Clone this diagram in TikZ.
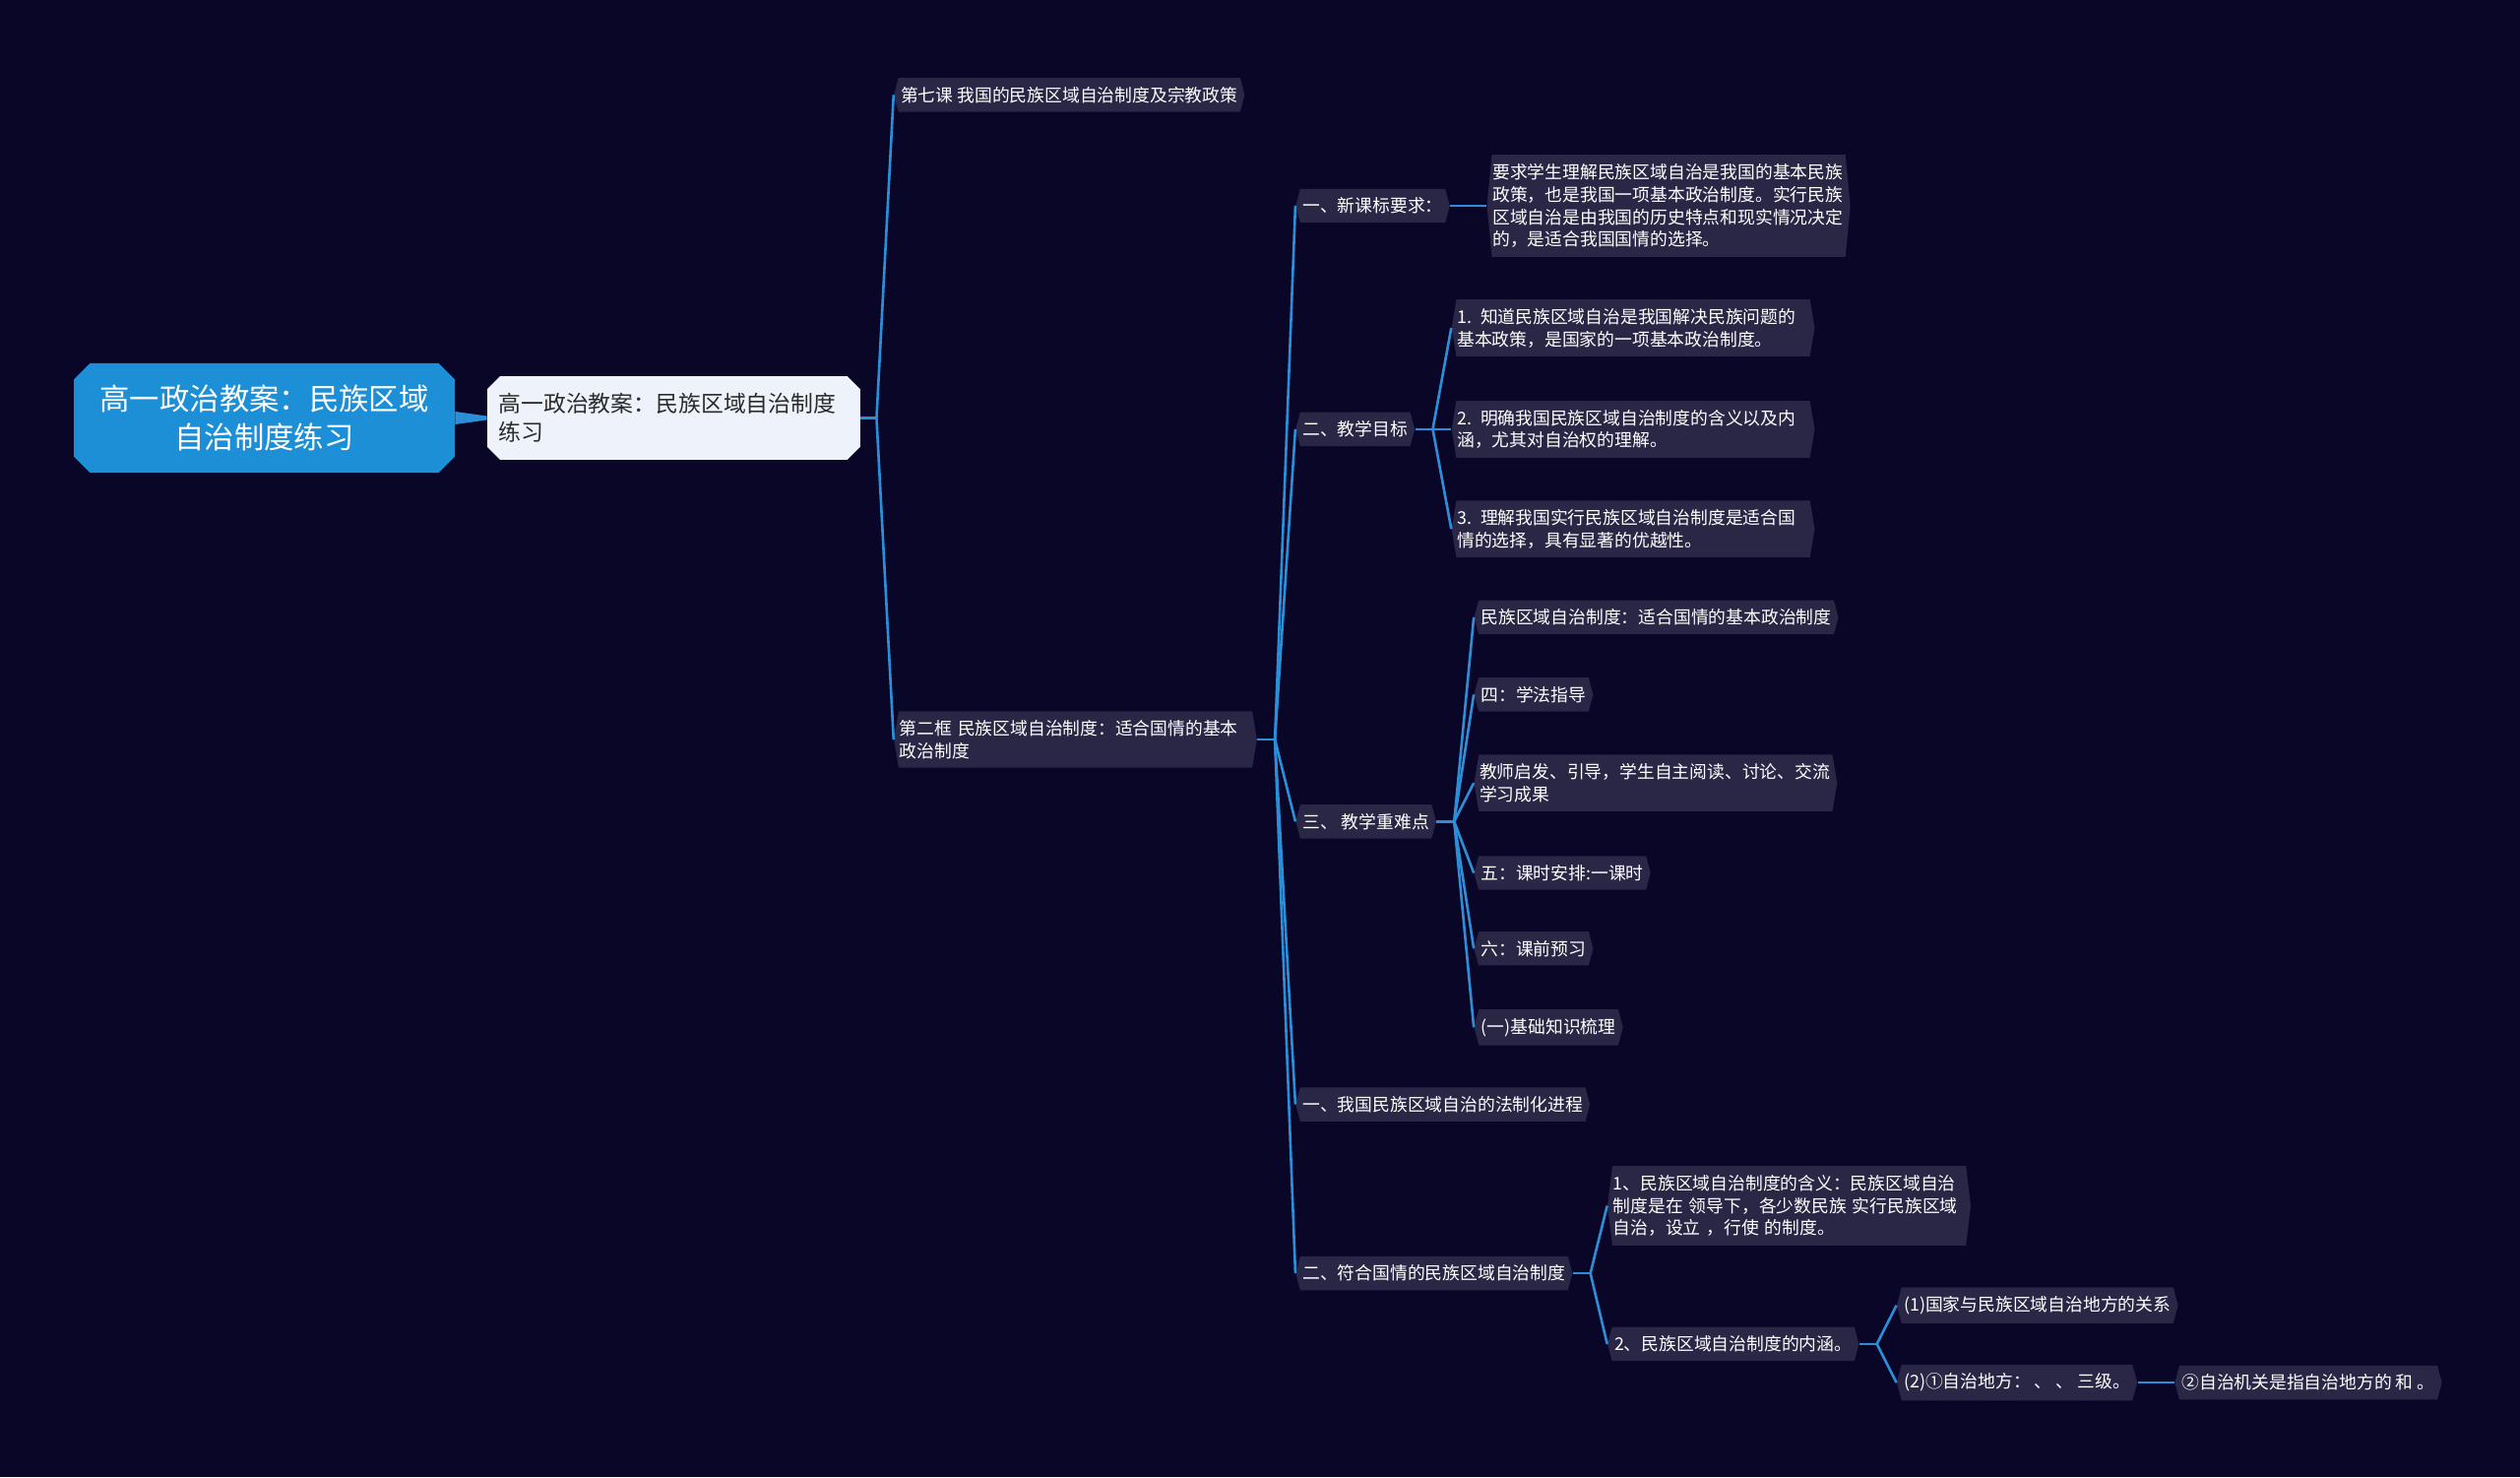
\documentclass[tikz,border=0pt]{standalone}
\usepackage{fontspec}
\setmainfont{Noto Sans CJK SC}
\usetikzlibrary{shapes.symbols,shapes.misc,calc}
\definecolor{bgnavy}{HTML}{0A0628}
\definecolor{leaffill}{HTML}{2A2646}
\definecolor{linkblue}{HTML}{2B8FD8}
\definecolor{rootblue}{HTML}{1C8FD6}
\definecolor{subfill}{HTML}{EEF3FB}
\definecolor{subtext}{HTML}{2B2B2B}
\begin{document}
\begin{tikzpicture}[x=1pt,y=-1pt]
        \tikzstyle{leaf}=[signal, signal to=west and east, signal pointer angle=150, fill=leaffill, text=white, font=\fontsize{10.9}{14}\selectfont, align=left, inner xsep=1.5pt, inner ysep=5.5pt, anchor=west]
        \tikzstyle{tworow}=[signal pointer angle=161, text width=219pt, inner xsep=0.5pt]
        \tikzstyle{threerow}=[signal pointer angle=166, text width=219pt, inner xsep=0.5pt]
        \tikzstyle{fourrow}=[signal pointer angle=169, text width=219pt, inner xsep=0.5pt]
        \tikzstyle{conn}=[draw=linkblue, line width=1.6pt]
        \fill [bgnavy] (0,0) rectangle (1568,919);
        % root and its white child
        \node [chamfered rectangle, chamfered rectangle xsep=5pt, chamfered rectangle ysep=5pt, fill=rootblue, text=white, font=\fontsize{18.6}{24}\selectfont, align=center, minimum width=237pt, minimum height=68pt, inner sep=0pt] (root) at (164.5,260) {高一政治教案：民族区域\\自治制度练习};
        \node [chamfered rectangle, chamfered rectangle xsep=4pt, chamfered rectangle ysep=4pt, fill=subfill, text=subtext, font=\fontsize{14}{18}\selectfont, align=left, text width=218pt, inner xsep=3pt, minimum height=52pt, anchor=west] (sub) at (303,260) {高一政治教案：民族区域自治制度\\练习};
        \fill [linkblue] ($(root.east)+(0,-4)$) -- ($(sub.west)+(0,-1.2)$) -- ($(sub.west)+(0,1.2)$) -- ($(root.east)+(0,4)$) -- cycle;
        % level 2
        \node [leaf] (lesson) at (556,59) {第七课 我国的民族区域自治制度及宗教政策};
        \node [leaf, tworow] (frame) at (556,460) {第二框 民族区域自治制度：适合国情的基本\\政治制度};
        \draw [conn] (sub.east) -- ++(10,0) coordinate (jsub);
        \draw [conn] (jsub) -- (lesson.west);
        \draw [conn] (jsub) -- (frame.west);
        % level 3
        \node [leaf] (req) at (806,128) {一、新课标要求：};
        \node [leaf] (aim) at (806,267) {二、教学目标};
        \node [leaf] (key) at (806,511) {三、 教学重难点};
        \node [leaf] (law) at (806,687) {一、我国民族区域自治的法制化进程};
        \node [leaf] (fit) at (806,792) {二、符合国情的民族区域自治制度};
        \draw [conn] (frame.east) -- ++(11,0) coordinate (jframe);
        \foreach \n in {req,aim,key,law,fit}
            \draw [conn] (jframe) -- (\n.west);
        % requirement text
        \node [leaf, fourrow] (reqtext) at (925,128) {要求学生理解民族区域自治是我国的基本民族\\政策，也是我国一项基本政治制度。实行民族\\区域自治是由我国的历史特点和现实情况决定\\的，是适合我国国情的选择。};
        \draw [conn] (req.east) -- (reqtext.west);
        % aims
        \node [leaf, tworow] (aim1) at (903,204) {1. 知道民族区域自治是我国解决民族问题的\\基本政策，是国家的一项基本政治制度。};
        \node [leaf, tworow] (aim2) at (903,267) {2. 明确我国民族区域自治制度的含义以及内\\涵，尤其对自治权的理解。};
        \node [leaf, tworow] (aim3) at (903,329) {3. 理解我国实行民族区域自治制度是适合国\\情的选择，具有显著的优越性。};
        \draw [conn] (aim.east) -- ++(11,0) coordinate (jaim);
        \foreach \n in {aim1,aim2,aim3}
            \draw [conn] (jaim) -- (\n.west);
        % key points
        \node [leaf] (key1) at (917,384) {民族区域自治制度：适合国情的基本政治制度};
        \node [leaf] (key2) at (917,432) {四：学法指导};
        \node [leaf, tworow] (key3) at (917,487) {教师启发、引导，学生自主阅读、讨论、交流\\学习成果};
        \node [leaf] (key4) at (917,543) {五：课时安排:一课时};
        \node [leaf] (key5) at (917,590) {六：课前预习};
        \node [leaf] (key6) at (917,639) {(一)基础知识梳理};
        \draw [conn] (key.east) -- ++(11,0) coordinate (jkey);
        \foreach \n in {key1,key2,key3,key4,key5,key6}
            \draw [conn] (jkey) -- (\n.west);
        % system
        \node [leaf, threerow] (mean) at (1000,750) {1、民族区域自治制度的含义：民族区域自治\\制度是在 领导下，各少数民族 实行民族区域\\自治，设立 ，行使 的制度。};
        \node [leaf] (core) at (1000,836) {2、民族区域自治制度的内涵。};
        \draw [conn] (fit.east) -- ++(11,0) coordinate (jfit);
        \draw [conn] (jfit) -- (mean.west);
        \draw [conn] (jfit) -- (core.west);
        \node [leaf] (rel) at (1180,812) {(1)国家与民族区域自治地方的关系};
        \node [leaf] (area) at (1180,860) {(2)①自治地方： 、 、 三级。};
        \node [leaf] (organ) at (1353,860) {②自治机关是指自治地方的 和 。};
        \draw [conn] (core.east) -- ++(11,0) coordinate (jcore);
        \draw [conn] (jcore) -- (rel.west);
        \draw [conn] (jcore) -- (area.west);
        \draw [conn] (area.east) -- (organ.west);
\end{tikzpicture}
\end{document}
